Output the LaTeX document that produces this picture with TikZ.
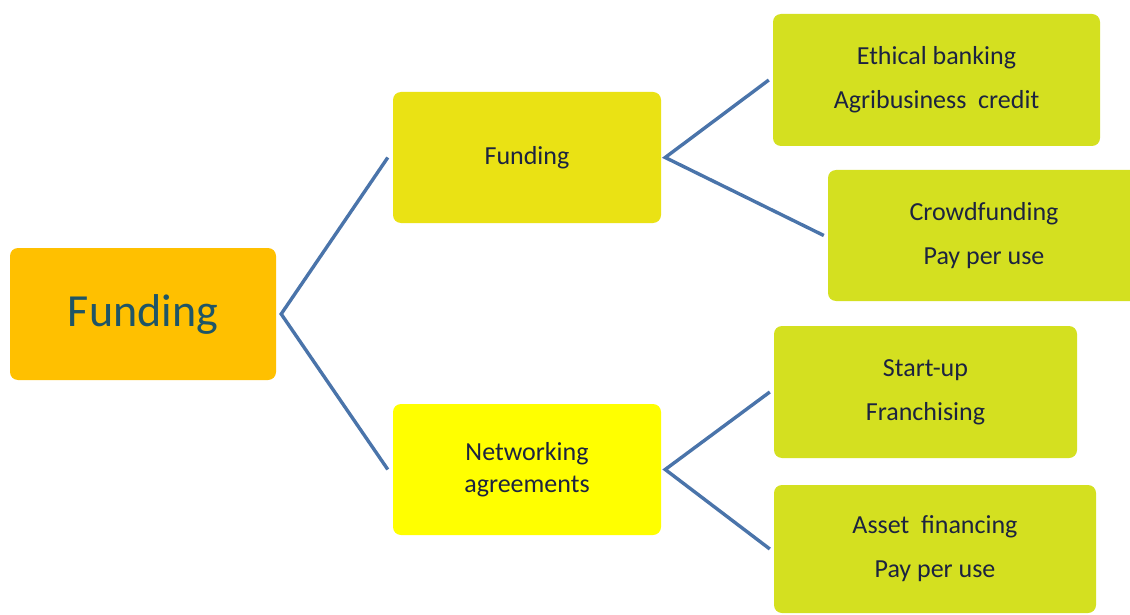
\documentclass[tikz,border=0pt]{standalone}
\usepackage{fontspec}
\setmainfont{Carlito}
\definecolor{rootfill}{HTML}{FFC000}
\definecolor{midfill}{HTML}{EAE214}
\definecolor{netfill}{HTML}{FFFF00}
\definecolor{leaffill}{HTML}{D4E020}
\definecolor{linkblue}{HTML}{4A74AA}
\definecolor{roottext}{HTML}{1F5566}
\definecolor{boxtext}{HTML}{1C2340}
\tikzset{
  box/.style={rectangle, rounded corners=8pt, draw=none, inner sep=0pt, align=center, text=boxtext},
  rootbox/.style={box, fill=rootfill, text=roottext, font=\fontsize{46}{50}\selectfont},
  midbox/.style={box, font=\fontsize{26}{32}\selectfont},
  leafbox/.style={box, fill=leaffill, font=\fontsize{26}{44}\selectfont},
  link/.style={draw=linkblue, line width=3.4pt}
}
\begin{document}
\begin{tikzpicture}[x=1pt,y=-1pt]
\clip (0,0) rectangle (1130,615);
\fill[white] (0,0) rectangle (1130,615);
\node[rootbox, minimum width=266pt, minimum height=132pt] (root) at (143,314) {Funding};
\node[midbox, fill=midfill, minimum width=268pt, minimum height=131pt] (fund) at (527,157.5) {Funding};
\node[midbox, fill=netfill, minimum width=268pt, minimum height=131pt] (net) at (527,469.5) {Networking\\agreements};
\node[leafbox, minimum width=327pt, minimum height=132pt] (eth) at (936.5,80) {Ethical banking\\Agribusiness~~credit};
\node[leafbox, minimum width=312pt, minimum height=131pt] (crowd) at (984,235.5) {Crowdfunding\\Pay per use};
\node[leafbox, minimum width=303pt, minimum height=132pt] (start) at (925.5,392) {Start-up\\Franchising};
\node[leafbox, minimum width=322pt, minimum height=128pt] (asset) at (935,549) {Asset~~financing\\Pay per use};
\draw[link] ([xshift=-5pt]fund.west) -- ([xshift=5pt]root.east) -- ([xshift=-5pt]net.west);
\draw[link] ([xshift=-4pt]eth.west) -- ([xshift=4pt]fund.east) -- ([xshift=-4pt]crowd.west);
\draw[link] ([xshift=-4pt]start.west) -- ([xshift=4pt]net.east) -- ([xshift=-4pt]asset.west);
\end{tikzpicture}
\end{document}
